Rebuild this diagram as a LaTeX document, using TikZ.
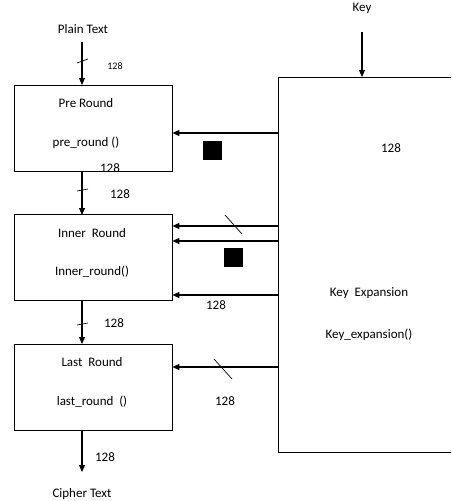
\documentclass[tikz,border=0pt]{standalone}
\usepackage{fontspec}
\setmainfont{Carlito}
\usetikzlibrary{arrows.meta}
\begin{document}
\begin{tikzpicture}[x=1pt,y=-1pt,
  blk/.style={draw,line width=0.8pt,minimum width=158pt,minimum height=86pt,inner sep=0pt},
  arr/.style={line width=1.1pt,-{Triangle[length=7pt,width=6pt]}},
  tick/.style={line width=0.7pt},
  lbl/.style={font=\fontsize{13}{15}\selectfont,inner sep=0pt},
  sml/.style={font=\fontsize{10}{12}\selectfont,inner sep=0pt},
  sq/.style={fill=black,minimum size=19pt,inner sep=0pt}]
\useasboundingbox (0,0) rectangle (451,501);
\clip (0,0) rectangle (451,501);
% key expansion box
\node[draw,line width=0.8pt,minimum width=200pt,minimum height=375pt,inner sep=0pt] (key) at (378,264.5) {};
\node[lbl] (keytxt) at (362,8) {Key};
\coordinate (keyin) at (362,32);
\draw[arr] (keyin) -- (362,77);
\node[lbl] (k128) at (391,148) {128};
\node[lbl] (kexp) at (369,293) {Key\ \ Expansion};
\node[lbl] (kfun) at (369,335) {Key\_expansion()};
% round boxes
\node[blk] (pre) at (93,128) {};
\node[blk] (inner) at (93,257.5) {};
\node[blk] (last) at (93,387) {};
\node[lbl] (pret) at (86,103) {Pre Round};
\node[lbl] (pref) at (86,143) {pre\_round ()};
\node[lbl] (innt) at (92,233) {Inner\ \ Round};
\node[lbl] (innf) at (92,272) {Inner\_round()};
\node[lbl] (lastt) at (92,362) {Last\ \ Round};
\node[lbl] (lastf) at (92,402) {last\_round\ \ ()};
% plain / cipher
\node[lbl] (plain) at (83,29) {Plain Text};
\node[lbl] (cipher) at (82,494) {Cipher Text};
\draw[arr] (plain.south -| 82,0) ++(0,8) -- (82,85);
\draw[tick] (77,63) -- (88,59);
\node[sml] (p128) at (115,66) {128};
% pre -> inner
\draw[arr] (82,171) -- (82,215);
\draw[tick] (77,191) -- (88,189);
\node[lbl] (a128) at (110,168) {128};
\node[lbl] (b128) at (120,194) {128};
% inner -> last
\draw[arr] (82,300) -- (82,344);
\draw[tick] (77,325) -- (88,323);
\node[lbl] (c128) at (114,323) {128};
% last -> cipher
\draw[arr] (82,430) -- (82,472);
\node[lbl] (d128) at (105,457) {128};
% key -> rounds
\draw[arr] (key.west |- 0,133) -- (pre.east |- 0,133);
\node[sq] (sq1) at (212,150) {};
\draw[arr] (key.west |- 0,226) -- (inner.east |- 0,226);
\draw[tick] (225,215) -- (242,234);
\draw[arr] (key.west |- 0,241) -- (inner.east |- 0,241);
\node[sq] (sq2) at (233,257) {};
\draw[arr] (key.west |- 0,295) -- (inner.east |- 0,295);
\node[lbl] (e128) at (216,305) {128};
\draw[arr] (key.west |- 0,367) -- (last.east |- 0,367);
\draw[tick] (214,359) -- (232,379);
\node[lbl] (f128) at (225,401) {128};
\end{tikzpicture}
\end{document}
